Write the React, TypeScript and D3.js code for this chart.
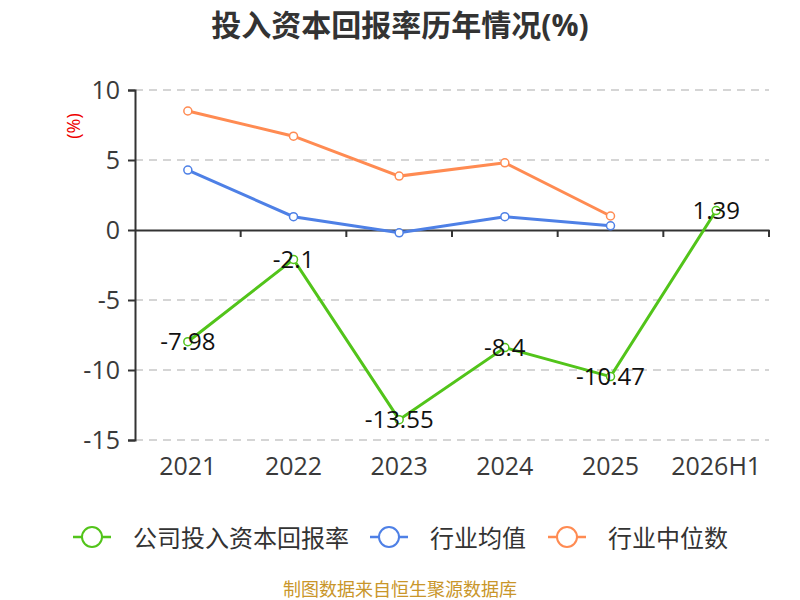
import React, { useEffect, useRef } from "react";
import * as d3 from "d3";

const categories = ["2021", "2022", "2023", "2024", "2025", "2026H1"];
const companyValues = [-7.98, -2.1, -13.55, -8.4, -10.47, 1.39];
const industryAvg = [4.28, 0.95, -0.2, 0.95, 0.3];
const industryMedian = [8.5, 6.7, 3.85, 4.8, 1.0];
const yTicks = [10, 5, 0, -5, -10, -15];

const seriesNames = ["公司投入资本回报率", "行业均值", "行业中位数"];
const colors = ["#52c41a", "#4e80e6", "#ff8b52"];

const FONT = "'Open Sans', 'Noto Sans CJK SC', sans-serif";

const App: React.FC = () => {
  const svgRef = useRef<SVGSVGElement | null>(null);

  useEffect(() => {
    const svg = d3.select(svgRef.current);
    svg.selectAll("*").remove();

    const margin = { top: 90, right: 31, bottom: 160, left: 135 };
    const width = 800;
    const height = 600;

    const x = d3
      .scaleBand<string>()
      .domain(categories)
      .range([margin.left, width - margin.right]);

    const y = d3
      .scaleLinear()
      .domain([-15, 10])
      .range([height - margin.bottom, margin.top]);

    const cx = (i: number) => x(categories[i])! + x.bandwidth() / 2;

    // Title
    svg
      .append("text")
      .attr("x", 400)
      .attr("y", 24)
      .attr("text-anchor", "middle")
      .attr("dominant-baseline", "central")
      .attr("font-family", FONT)
      .attr("font-size", 30)
      .attr("font-weight", "bold")
      .attr("fill", "#333")
      .text("投入资本回报率历年情况(%)");

    // Grid
    svg
      .append("g")
      .selectAll("line")
      .data(yTicks.filter((t) => t !== 0))
      .enter()
      .append("line")
      .attr("x1", margin.left)
      .attr("x2", width - margin.right)
      .attr("y1", (d) => y(d))
      .attr("y2", (d) => y(d))
      .attr("stroke", "#c8c8c8")
      .attr("stroke-width", 1.5)
      .attr("stroke-dasharray", "8,6");

    // Y axis
    const yAxis = svg
      .append("g")
      .attr("transform", `translate(${margin.left},0)`)
      .call(
        d3
          .axisLeft(y)
          .tickValues(yTicks)
          .tickSize(7)
          .tickPadding(8)
          .tickFormat((d) => String(d))
      );
    yAxis.select(".domain").attr("stroke", "#333").attr("stroke-width", 2);
    yAxis.selectAll(".tick line").attr("stroke", "#333").attr("stroke-width", 2);
    yAxis
      .selectAll(".tick text")
      .attr("font-family", FONT)
      .attr("font-size", 25)
      .attr("fill", "#3a3a3a");

    // X axis at zero
    const xAxis = svg
      .append("g")
      .attr("transform", `translate(0,${y(0)})`)
      .call(d3.axisBottom(x).tickSize(0).tickFormat(() => ""));
    xAxis.select(".domain").attr("stroke", "#333").attr("stroke-width", 2);
    const bounds = categories.map((c) => x(c)!).concat([width - margin.right]);
    svg
      .append("g")
      .selectAll("line")
      .data(bounds.slice(1))
      .enter()
      .append("line")
      .attr("x1", (d) => d)
      .attr("x2", (d) => d)
      .attr("y1", y(0))
      .attr("y2", y(0) + 7)
      .attr("stroke", "#333")
      .attr("stroke-width", 2);

    // X labels at bottom
    svg
      .append("g")
      .selectAll("text")
      .data(categories)
      .enter()
      .append("text")
      .attr("x", (_, i) => cx(i))
      .attr("y", 465)
      .attr("text-anchor", "middle")
      .attr("dominant-baseline", "central")
      .attr("font-family", FONT)
      .attr("font-size", 25)
      .attr("fill", "#3a3a3a")
      .text((d) => d);

    // Unit label
    svg
      .append("text")
      .attr("transform", `translate(73,126) rotate(-90)`)
      .attr("text-anchor", "middle")
      .attr("dominant-baseline", "central")
      .attr("font-family", FONT)
      .attr("font-size", 18)
      .attr("fill", "#e00")
      .text("(%)");

    const line = d3
      .line<number>()
      .x((_, i) => cx(i))
      .y((d) => y(d));

    const allSeries = [companyValues, industryAvg, industryMedian];
    [2, 1, 0].forEach((s) => {
      const data = allSeries[s];
      svg
        .append("path")
        .datum(data)
        .attr("fill", "none")
        .attr("stroke", colors[s])
        .attr("stroke-width", 3)
        .attr("d", line);
      svg
        .append("g")
        .selectAll("circle")
        .data(data)
        .enter()
        .append("circle")
        .attr("cx", (_, i) => cx(i))
        .attr("cy", (d) => y(d))
        .attr("r", 4)
        .attr("fill", "#fff")
        .attr("stroke", colors[s])
        .attr("stroke-width", 1.5);
    });

    // Value labels
    svg
      .append("g")
      .selectAll("text")
      .data(companyValues)
      .enter()
      .append("text")
      .attr("x", (_, i) => cx(i))
      .attr("y", (d) => y(d) - 1)
      .attr("text-anchor", "middle")
      .attr("dominant-baseline", "central")
      .attr("font-family", FONT)
      .attr("font-size", 24)
      .attr("fill", "#111")
      .text((d) => String(d));

    // Legend
    const legendX = [73, 370, 548];
    seriesNames.forEach((name, i) => {
      const g = svg.append("g").attr("transform", `translate(${legendX[i]},537)`);
      g.append("line")
        .attr("x1", 0)
        .attr("x2", 38)
        .attr("stroke", colors[i])
        .attr("stroke-width", 2.5);
      g.append("circle")
        .attr("cx", 19)
        .attr("r", 10)
        .attr("fill", "#fff")
        .attr("stroke", colors[i])
        .attr("stroke-width", 2);
      g.append("text")
        .attr("x", 60)
        .attr("dominant-baseline", "central")
        .attr("font-family", FONT)
        .attr("font-size", 24)
        .attr("fill", "#333")
        .text(name);
    });

    // Footer
    svg
      .append("text")
      .attr("x", 400)
      .attr("y", 589)
      .attr("text-anchor", "middle")
      .attr("dominant-baseline", "central")
      .attr("font-family", FONT)
      .attr("font-size", 18)
      .attr("fill", "#c9962a")
      .text("制图数据来自恒生聚源数据库");
  }, []);

  return (
    <svg
      ref={svgRef}
      width={800}
      height={600}
      style={{ position: "absolute", left: 0, top: 0, background: "#fff" }}
    />
  );
};

export default App;
